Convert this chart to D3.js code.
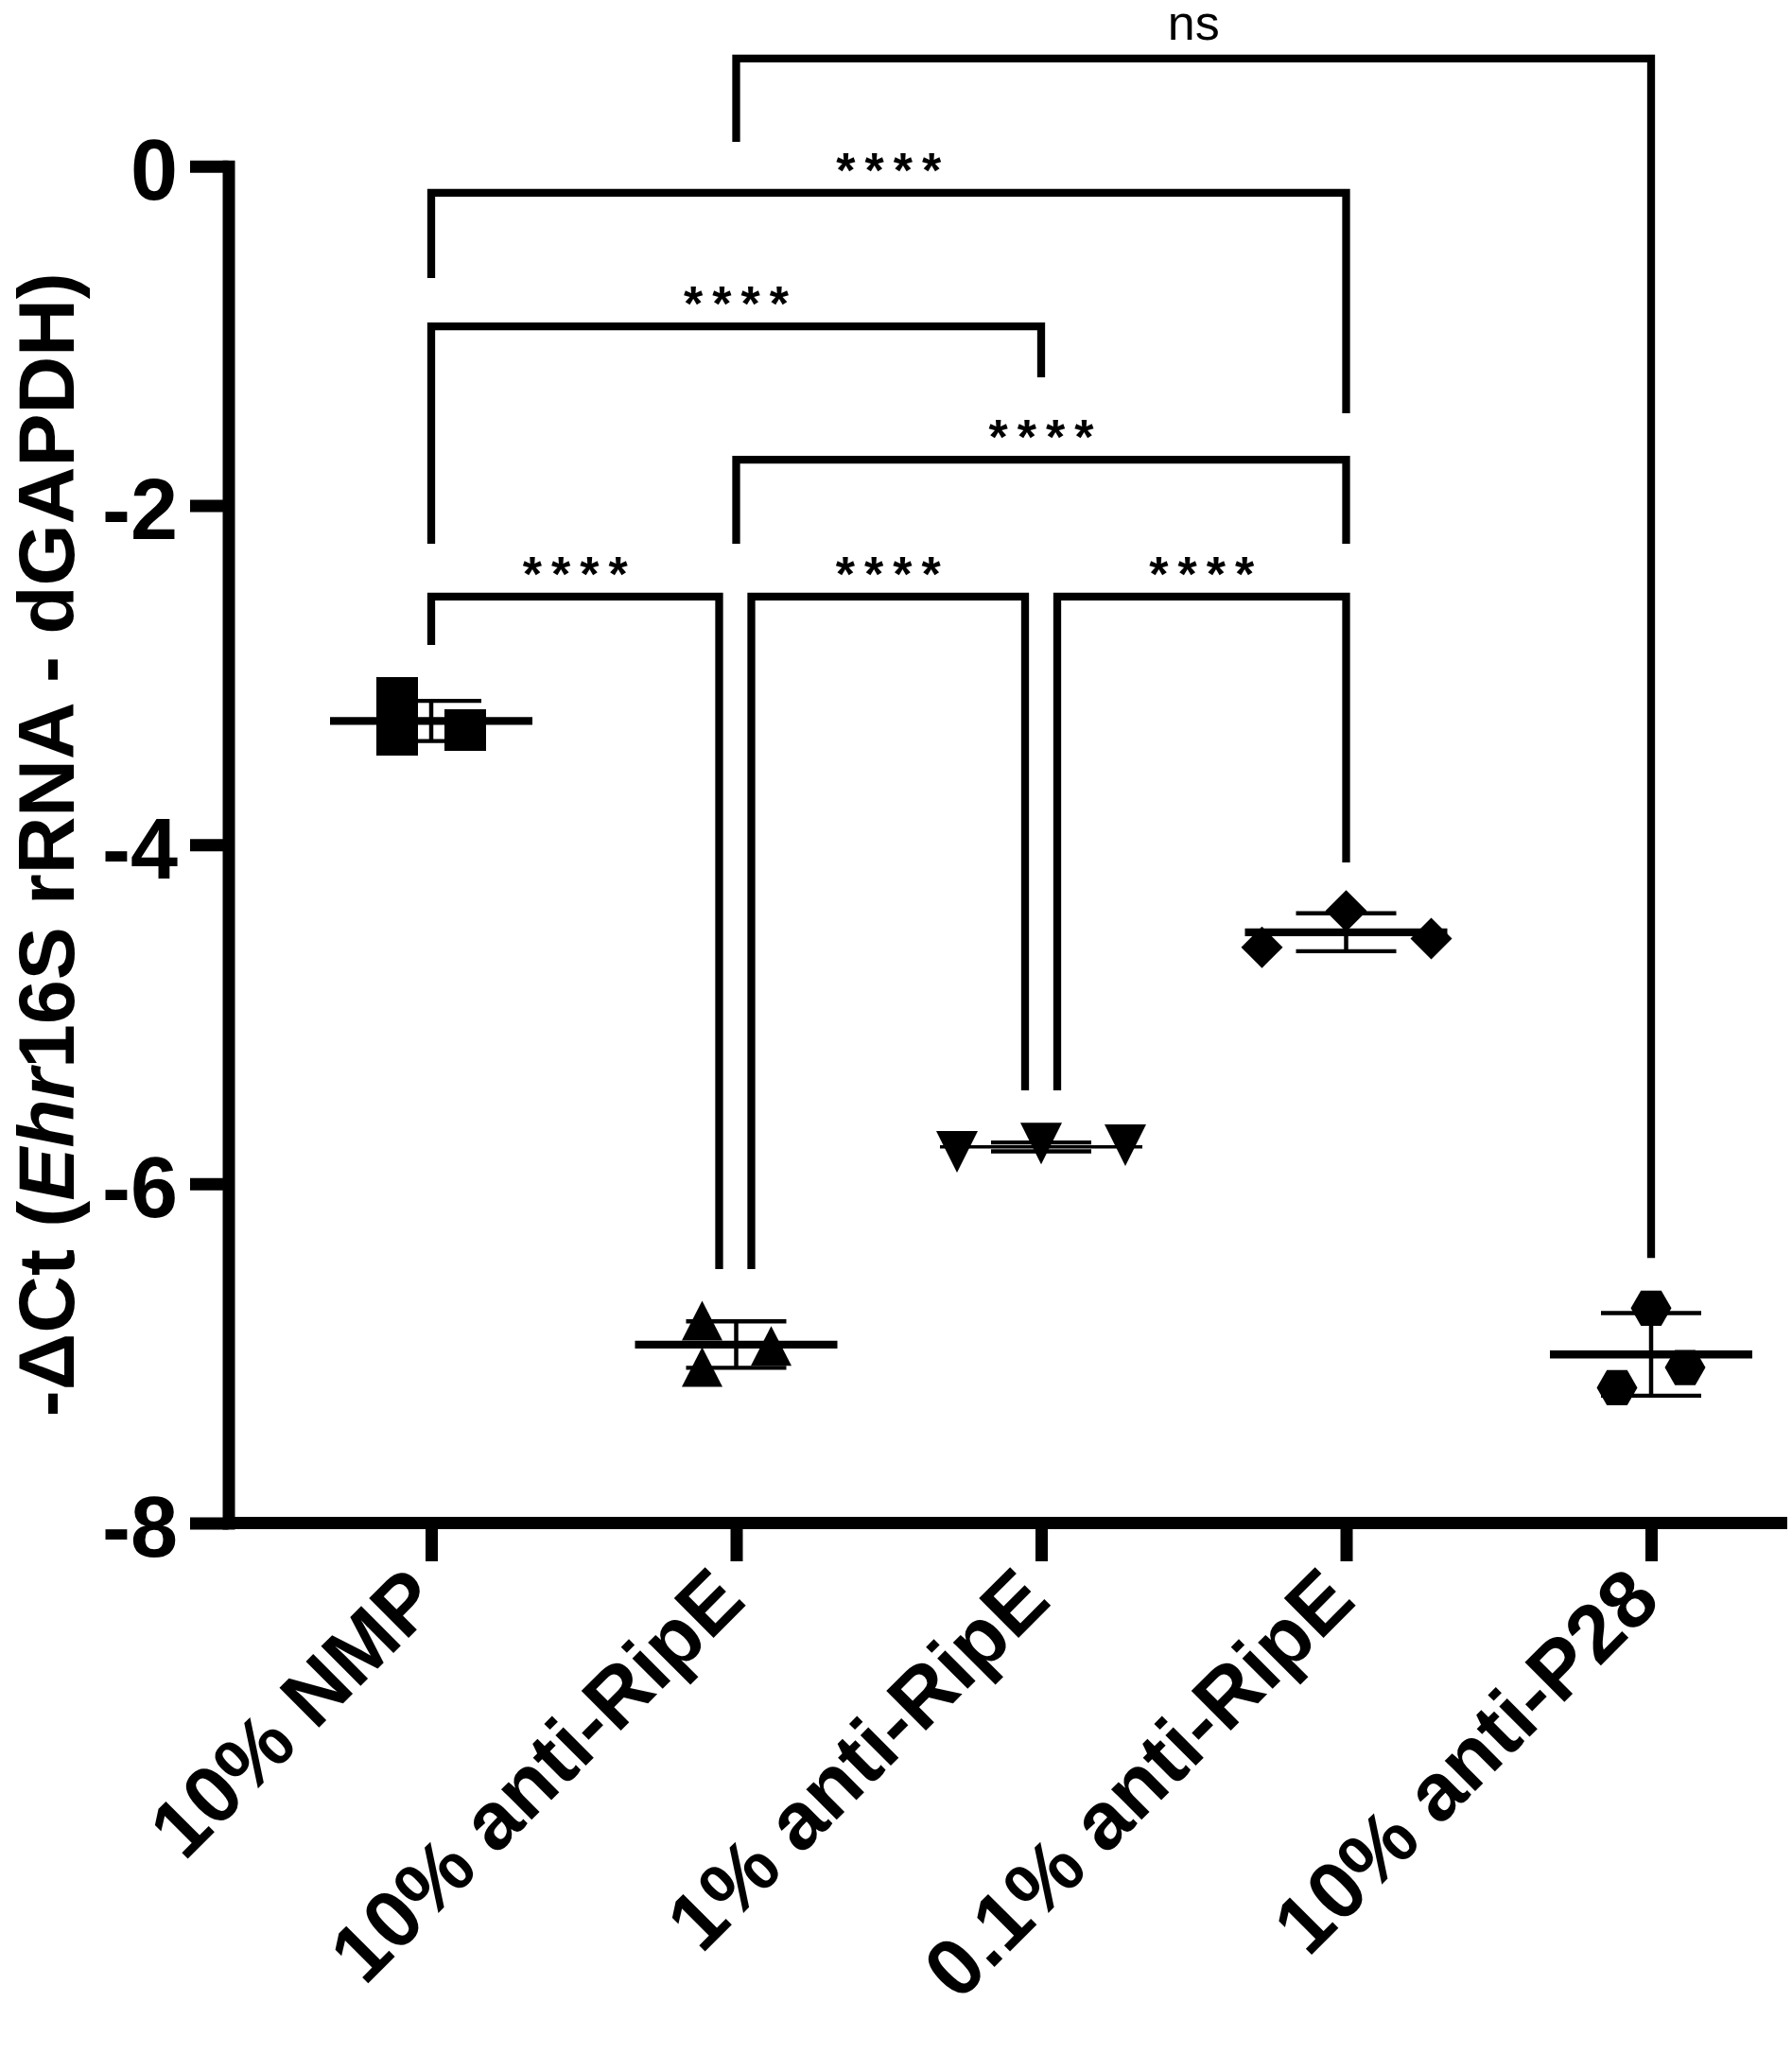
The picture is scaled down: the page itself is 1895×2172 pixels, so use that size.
<!DOCTYPE html>
<html>
<head>
<meta charset="utf-8">
<script src="https://cdn.jsdelivr.net/npm/d3@7"></script>
<style>
  body { margin: 0; background: #fff; }
  text { font-family: "Liberation Sans", Arial, sans-serif; fill: #000; }
</style>
</head>
<body>
<div id="chart"></div>
<script>
// data
var groups = ["10% NMP", "10% anti-RipE", "1% anti-RipE", "0.1% anti-RipE", "10% anti-P28"];
var nmpValues    = [-3.135, -3.352, -3.325];
var ripe10Values = [-6.807, -7.080, -6.956];
var ripe1Values  = [-5.812, -5.762, -5.773];
var ripe01Values = [-4.391, -4.605, -4.554];
var p28Values    = [-6.733, -7.083, -7.202];
var yTicks = [0, -2, -4, -6, -8];

// [group a, group b, label, bar level, end of left leg, end of right leg]
var comparisons = [
  ["10% anti-RipE", "10% anti-P28",   "ns",   0.635,  0.144, -6.437],
  ["10% NMP",       "0.1% anti-RipE", "****", -0.157, -0.659, -1.457],
  ["10% NMP",       "1% anti-RipE",   "****", -0.944, -2.226, -1.244],
  ["10% anti-RipE", "0.1% anti-RipE", "****", -1.730, -2.226, -2.226],
  ["10% NMP",       "10% anti-RipE",  "****", -2.538, -2.822, -6.503],
  ["10% anti-RipE", "1% anti-RipE",   "****", -2.538, -6.503, -5.449],
  ["1% anti-RipE",  "0.1% anti-RipE", "****", -2.538, -5.449, -4.105]
];

var allValues = [nmpValues, ripe10Values, ripe1Values, ripe01Values, p28Values];

// layout only
var jitter = [[-36, -36, 36], [-36, -36, 37], [-89, 0, 89], [0, -89, 90], [0, 36, -36]];
var legShift = [[0, 0], [0, 0], [0, 0], [0, 0], [0, -18], [16, -17], [17, 0]];
var markers = ["square", "triUp", "triDown", "diamond", "hexagon"];
var meanWidth = [8.3, 8.3, 3.4, 8.3, 8.3];

var W = 1895, H = 2172;
var svg = d3.select("#chart").append("svg")
  .attr("width", W).attr("height", H);

var y = d3.scaleLinear().domain([-8, 0]).range([1610.5, 175.8]);
var x = d3.scalePoint().domain(groups).range([456, 1746]);
var axisX = 241.5;

function markerPath(kind) {
  if (kind == "square") return "M-22,-22H22V22H-22Z";
  if (kind == "triUp") return "M0,-21L21.5,21L-21.5,21Z";
  if (kind == "triDown") return "M0,22L22,-22L-22,-22Z";
  if (kind == "diamond") return "M0,-22L22,0L0,22L-22,0Z";
  var r = 21.5, h = r * Math.sqrt(3) / 2;
  return "M" + (-r) + ",0L" + (-r / 2) + "," + (-h) + "L" + (r / 2) + "," + (-h) +
    "L" + r + ",0L" + (r / 2) + "," + h + "L" + (-r / 2) + "," + h + "Z";
}

// y axis
var yAxis = svg.append("g")
  .attr("transform", "translate(" + axisX + ",0)")
  .call(d3.axisLeft(y).tickValues(yTicks).tickSize(40.5).tickSizeOuter(0)
    .tickPadding(13).tickFormat(function(d) { return String(d); }));
yAxis.select(".domain").attr("stroke", "#000").attr("stroke-width", 13)
  .attr("stroke-linecap", "square");
yAxis.selectAll(".tick line").attr("stroke", "#000").attr("stroke-width", 13);
yAxis.selectAll(".tick text")
  .attr("dy", "0.39em")
  .style("font-size", "90px").style("font-weight", "bold");

// x axis
svg.append("line")
  .attr("x1", axisX).attr("x2", 1890)
  .attr("y1", y(-8)).attr("y2", y(-8))
  .attr("stroke", "#000").attr("stroke-width", 13);

var xAxis = svg.append("g")
  .attr("transform", "translate(0," + y(-8) + ")")
  .call(d3.axisBottom(x).tickSize(40.5).tickSizeOuter(0));
xAxis.select(".domain").remove();
xAxis.selectAll(".tick line").attr("stroke", "#000").attr("stroke-width", 13);
xAxis.selectAll(".tick text")
  .attr("x", 0).attr("y", 0).attr("dy", null)
  .attr("text-anchor", "end")
  .attr("transform", "translate(12,85) rotate(-45)")
  .style("font-size", "86px").style("font-weight", "bold");

// y axis title
var title = svg.append("text")
  .attr("transform", "translate(78," + ((y(0) + y(-8)) / 2) + ") rotate(-90)")
  .attr("text-anchor", "middle")
  .style("font-size", "84px").style("font-weight", "bold");
title.append("tspan").text("-\u0394Ct (");
title.append("tspan").style("font-style", "italic").text("Ehr");
title.append("tspan").text("16S rRNA - dGAPDH)");

// groups: points, mean, SD
groups.forEach(function(g, i) {
  var vals = allValues[i];
  var cx = x(g);
  var m = d3.mean(vals), sd = d3.deviation(vals);
  var grp = svg.append("g");

  grp.selectAll("path.pt")
    .data(vals)
    .enter().append("path")
    .attr("class", "pt")
    .attr("d", markerPath(markers[i]))
    .attr("transform", function(d, j) {
      return "translate(" + (cx + jitter[i][j]) + "," + y(d) + ")";
    })
    .attr("fill", "#000");

  grp.append("line")
    .attr("x1", cx - 107).attr("x2", cx + 107)
    .attr("y1", y(m)).attr("y2", y(m))
    .attr("stroke", "#000").attr("stroke-width", meanWidth[i]);

  grp.append("line")
    .attr("x1", cx).attr("x2", cx)
    .attr("y1", y(m + sd)).attr("y2", y(m - sd))
    .attr("stroke", "#000").attr("stroke-width", 4.5);

  grp.selectAll("line.cap")
    .data([m + sd, m - sd])
    .enter().append("line")
    .attr("class", "cap")
    .attr("x1", cx - 53).attr("x2", cx + 53)
    .attr("y1", function(d) { return y(d); })
    .attr("y2", function(d) { return y(d); })
    .attr("stroke", "#000").attr("stroke-width", 4.3);
});

// significance brackets
comparisons.forEach(function(c, k) {
  var xl = x(c[0]) + legShift[k][0];
  var xr = x(c[1]) + legShift[k][1];
  var yb = y(c[3]);
  svg.append("path")
    .attr("d", "M" + xl + "," + y(c[4]) + "V" + yb + "H" + xr + "V" + y(c[5]))
    .attr("fill", "none").attr("stroke", "#000").attr("stroke-width", 8.3)
    .attr("stroke-linejoin", "miter");
  var isStars = c[2] == "****";
  svg.append("text")
    .attr("x", (xl + xr) / 2 + (isStars ? 5 : 0))
    .attr("y", isStars ? yb - 6 : yb - 20)
    .attr("text-anchor", "middle")
    .style("font-size", "52px")
    .style("font-weight", isStars ? "bold" : "normal")
    .style("letter-spacing", isStars ? "10px" : null)
    .text(c[2]);
});
</script>
</body>
</html>
